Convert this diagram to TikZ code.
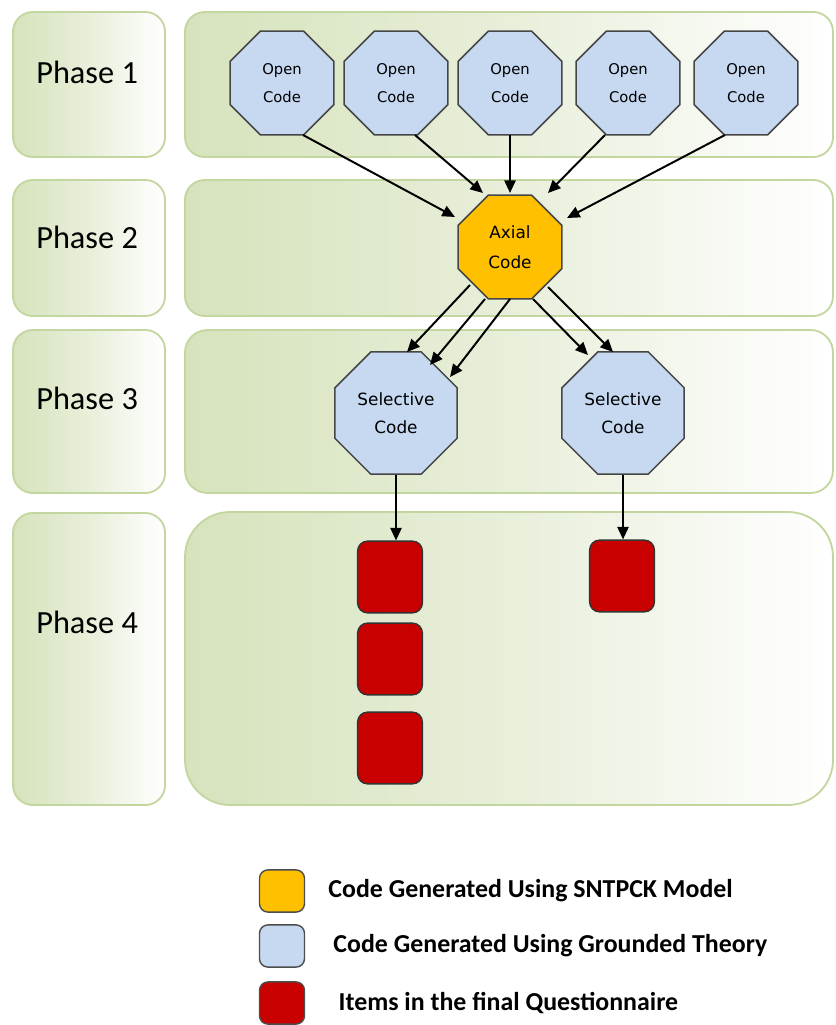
\documentclass[tikz,border=0pt]{standalone}
\usepackage{fontspec}
\setmainfont{Carlito}
\newfontfamily\codefont{DejaVu Sans}
\usetikzlibrary{shapes.geometric, arrows.meta, positioning}

\begin{document}
\begin{tikzpicture}[x=0.025cm, y=-0.025cm,
  phase/.style={draw=phaseborder, line width=1.3pt, left color=phasegreen, right color=white, middle color=phasemid},
  phaselabel/.style={anchor=west, inner sep=0pt, font=\fontsize{23}{26}\selectfont},
  octa/.style={regular polygon, regular polygon sides=8, draw=octaborder, line width=1.1pt, align=center, inner sep=0pt},
  opencode/.style={octa, fill=codeblue, minimum size=80pt, font=\codefont\fontsize{10.5}{19.5}\selectfont},
  axialcode/.style={octa, fill=axialorange, minimum size=80pt, font=\codefont\fontsize{12}{21}\selectfont},
  selcode/.style={octa, fill=codeblue, minimum size=94pt, font=\codefont\fontsize{12}{20}\selectfont},
  item/.style={rectangle, rounded corners=7pt, draw=black!80, line width=1pt, fill=itemred, minimum width=46pt, minimum height=51pt, inner sep=0pt},
  keybox/.style={rectangle, rounded corners=6pt, draw=black!70, line width=1pt, minimum width=32pt, minimum height=30pt, inner sep=0pt},
  keytext/.style={anchor=west, inner sep=0pt, font=\bfseries\fontsize{18.4}{21}\selectfont},
  arr/.style={line width=1.4pt, -{Triangle[length=9pt, width=8pt]}}]

\definecolor{phasegreen}{RGB}{214,227,188}
\definecolor{phasemid}{RGB}{232,239,218}
\definecolor{phaseborder}{RGB}{196,214,160}
\definecolor{octaborder}{RGB}{70,70,70}
\definecolor{codeblue}{RGB}{198,217,241}
\definecolor{axialorange}{RGB}{255,192,0}
\definecolor{itemred}{RGB}{200,0,0}

\useasboundingbox (0,0) rectangle (835,1025);

\draw[phase, rounded corners=14pt] (13,12) rectangle (165,157);
\draw[phase, rounded corners=14pt] (13,180) rectangle (165,316);
\draw[phase, rounded corners=14pt] (13,330) rectangle (165,493);
\draw[phase, rounded corners=14pt] (13,513) rectangle (165,805);

\draw[phase, rounded corners=14pt] (185,12) rectangle (833,157);
\draw[phase, rounded corners=14pt] (185,180) rectangle (833,316);
\draw[phase, rounded corners=16pt] (185,330) rectangle (833,493);
\draw[phase, rounded corners=32pt] (185,512) rectangle (833,805);

\node[phaselabel] (lab1) at (36,72) {Phase 1};
\node[phaselabel] (lab2) at (36,237) {Phase 2};
\node[phaselabel] (lab3) at (36,398) {Phase 3};
\node[phaselabel] (lab4) at (36,622) {Phase 4};

\node[opencode] (open1) at (282,83) {Open\\Code};
\node[opencode] (open2) at (396,83) {Open\\Code};
\node[opencode] (open3) at (510,83) {Open\\Code};
\node[opencode] (open4) at (628,83) {Open\\Code};
\node[opencode] (open5) at (746,83) {Open\\Code};

\node[axialcode] (axial) at (510,247) {Axial\\Code};

\node[selcode] (sel1) at (396,413) {Selective\\Code};
\node[selcode] (sel2) at (623,413) {Selective\\Code};

\node[item] (item1) at (390,577) {};
\node[item] (item2) at (390,659) {};
\node[item] (item3) at (390,748) {};
\node[item] (item4) at (622,576) {};

\draw[arr] ([shift={(21,52)}]open1.center) -- ([shift={(-55,-30)}]axial.center);
\draw[arr] ([shift={(19,52)}]open2.center) -- ([shift={(-27,-54)}]axial.center);
\draw[arr] ([shift={(0,52)}]open3.center) -- ([shift={(0,-54)}]axial.center);
\draw[arr] ([shift={(-23,52)}]open4.center) -- ([shift={(38,-54)}]axial.center);
\draw[arr] ([shift={(-21,52)}]open5.center) -- ([shift={(57,-29)}]axial.center);

\draw[arr] ([shift={(-40,38)}]axial.center) -- ([shift={(11,-61)}]sel1.center);
\draw[arr] ([shift={(-25,52)}]axial.center) -- ([shift={(34,-48)}]sel1.center);
\draw[arr] ([shift={(0,52)}]axial.center) -- ([shift={(54,-36)}]sel1.center);
\draw[arr] ([shift={(23,52)}]axial.center) -- ([shift={(-35,-58)}]sel2.center);
\draw[arr] ([shift={(38,40)}]axial.center) -- ([shift={(-10,-61)}]sel2.center);

\draw[arr] (sel1.south) -- (sel1.south |- item1.north);
\draw[arr] (sel2.south) -- (sel2.south |- item4.north);

\node[keybox, fill=axialorange] (keyaxial) at (282,891) {};
\node[keybox, fill=codeblue] (keyopen) at (282,946) {};
\node[keybox, fill=itemred] (keyitem) at (282,1003) {};

\node[keytext, right=0.575cm of keyaxial] (txtaxial) {Code Generated Using SNTPCK Model};
\node[keytext, right=0.7cm of keyopen] (txtopen) {Code Generated Using Grounded Theory};
\node[keytext, right=0.83cm of keyitem] (txtitem) {Items in the final Questionnaire};

\end{tikzpicture}
\end{document}
